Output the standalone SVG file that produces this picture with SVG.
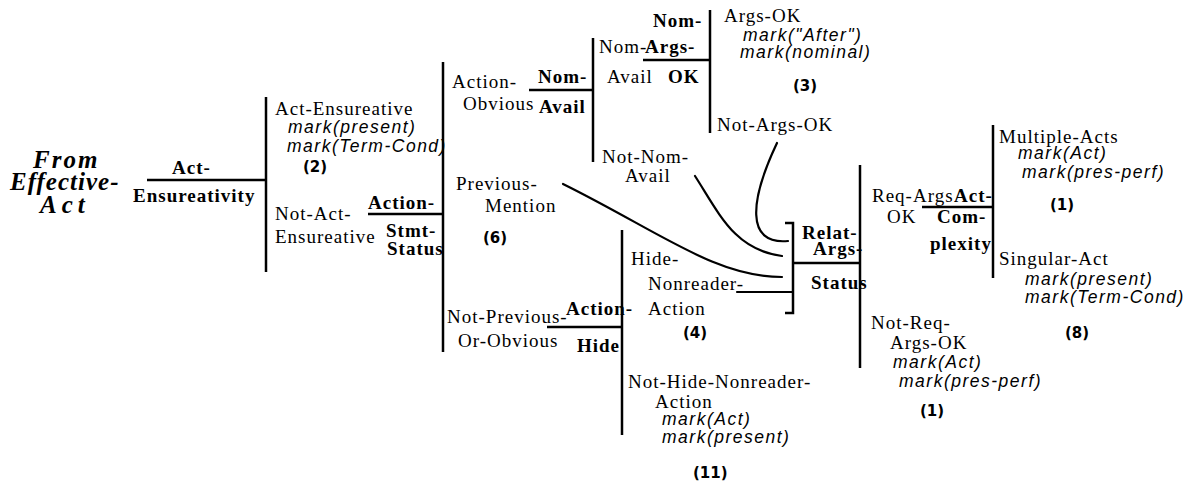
<svg xmlns="http://www.w3.org/2000/svg" width="1186" height="487" viewBox="0 0 1186 487">
<style>
text { font-family: "Liberation Serif", "Times New Roman", serif; font-size: 19px; letter-spacing: 1px; fill: #000; }
.b { font-weight: bold; }
.root { font-weight: bold; font-style: italic; font-size: 25px; letter-spacing: 1px; }
.mk { font-family: "Liberation Sans", Arial, sans-serif; font-style: italic; font-size: 17.5px; letter-spacing: 1.5px; }
.cnt { font-family: "DejaVu Sans", sans-serif; font-weight: bold; font-size: 15px; letter-spacing: 0px; }
.bar { stroke: #000; stroke-width: 2.5; fill: none; }
.link { stroke: #000; stroke-width: 2.2; fill: none; stroke-linecap: round; }
</style>
<rect width="1186" height="487" fill="#fff"/>

<!-- entry condition -->
<g id="root">
  <text class="root" x="33" y="168" style="letter-spacing:2px">From</text>
  <text class="root" x="10" y="190">Effective-</text>
  <text class="root" x="40" y="213" style="letter-spacing:5px">Act</text>
</g>

<!-- system: Act-Ensureativity -->
<g id="act-ensureativity">
  <line class="bar" x1="147" y1="180" x2="267" y2="180"/>
  <line class="bar" x1="266" y1="97" x2="266" y2="272"/>
  <text class="b" x="172" y="174">Act-</text>
  <text class="b" x="133" y="202">Ensureativity</text>
  <text x="275" y="115">Act-Ensureative</text>
  <text class="mk" x="288" y="133">mark(present)</text>
  <text class="mk" x="287" y="152">mark(Term-Cond)</text>
  <text class="cnt" x="303" y="172">(2)</text>
  <text x="275" y="220">Not-Act-</text>
  <text x="275" y="243">Ensureative</text>
</g>

<!-- system: Action-Stmt-Status -->
<g id="action-stmt-status">
  <line class="bar" x1="368" y1="214" x2="444" y2="214"/>
  <line class="bar" x1="443" y1="62" x2="443" y2="352"/>
  <text class="b" x="368" y="209">Action-</text>
  <text class="b" x="386" y="237">Stmt-</text>
  <text class="b" x="387" y="255">Status</text>
  <text x="452" y="88">Action-</text>
  <text x="463" y="110">Obvious</text>
  <text x="456" y="190">Previous-</text>
  <text x="485" y="212">Mention</text>
  <text class="cnt" x="483" y="243">(6)</text>
  <text x="447" y="323">Not-Previous-</text>
  <text x="458" y="347">Or-Obvious</text>
</g>

<!-- system: Nom-Avail -->
<g id="nom-avail">
  <line class="bar" x1="529" y1="90" x2="594" y2="90"/>
  <line class="bar" x1="593" y1="38" x2="593" y2="162"/>
  <text class="b" x="538" y="83">Nom-</text>
  <text class="b" x="539" y="113">Avail</text>
  <text x="599" y="53">Nom-</text>
  <text x="607" y="83">Avail</text>
  <text x="602" y="163">Not-Nom-</text>
  <text x="625" y="182">Avail</text>
</g>

<!-- system: Nom-Args-OK -->
<g id="nom-args-ok">
  <line class="bar" x1="643" y1="60" x2="711" y2="60"/>
  <line class="bar" x1="710" y1="10" x2="710" y2="133"/>
  <text class="b" x="653" y="27">Nom-</text>
  <text class="b" x="645" y="53">Args-</text>
  <text class="b" x="668" y="83">OK</text>
  <text x="724" y="22">Args-OK</text>
  <text class="mk" x="743" y="41">mark("After")</text>
  <text class="mk" x="740" y="58">mark(nominal)</text>
  <text class="cnt" x="793" y="91">(3)</text>
  <text x="717" y="131">Not-Args-OK</text>
</g>

<!-- system: Action-Hide -->
<g id="action-hide">
  <line class="bar" x1="547" y1="327" x2="623" y2="327"/>
  <line class="bar" x1="622" y1="230" x2="622" y2="435"/>
  <text class="b" x="566" y="315">Action-</text>
  <text class="b" x="577" y="352">Hide</text>
  <text x="631" y="265">Hide-</text>
  <text x="648" y="290">Nonreader-</text>
  <text x="648" y="315">Action</text>
  <text class="cnt" x="683" y="338">(4)</text>
  <text x="628" y="388">Not-Hide-Nonreader-</text>
  <text x="655" y="408">Action</text>
  <text class="mk" x="662" y="425">mark(Act)</text>
  <text class="mk" x="662" y="443">mark(present)</text>
  <text class="cnt" x="693" y="478">(11)</text>
</g>

<!-- system: Relat-Args-Status (conjunctive entry) -->
<g id="relat-args-status">
  <path class="bar" d="M785,223 H793 V313 H785"/>
  <line class="bar" x1="793" y1="263" x2="861" y2="263"/>
  <line class="bar" x1="860" y1="165" x2="860" y2="368"/>
  <text class="b" x="802" y="239">Relat-</text>
  <text class="b" x="813" y="255">Args-</text>
  <text class="b" x="811" y="289">Status</text>
  <text x="872" y="202">Req-Args</text>
  <text x="887" y="223">OK</text>
  <text x="871" y="329">Not-Req-</text>
  <text x="890" y="349">Args-OK</text>
  <text class="mk" x="893" y="368">mark(Act)</text>
  <text class="mk" x="899" y="387">mark(pres-perf)</text>
  <text class="cnt" x="920" y="416">(1)</text>
</g>

<!-- system: Act-Complexity -->
<g id="act-complexity">
  <line class="bar" x1="922" y1="207" x2="994" y2="207"/>
  <line class="bar" x1="993" y1="125" x2="993" y2="278"/>
  <text class="b" x="954" y="202">Act-</text>
  <text class="b" x="937" y="223">Com-</text>
  <text class="b" x="930" y="250">plexity</text>
  <text x="999" y="143">Multiple-Acts</text>
  <text class="mk" x="1018" y="159">mark(Act)</text>
  <text class="mk" x="1022" y="178">mark(pres-perf)</text>
  <text class="cnt" x="1050" y="210">(1)</text>
  <text x="999" y="265">Singular-Act</text>
  <text class="mk" x="1025" y="285">mark(present)</text>
  <text class="mk" x="1025" y="303">mark(Term-Cond)</text>
  <text class="cnt" x="1065" y="338">(8)</text>
</g>

<!-- connectors into the conjunction bracket -->
<g id="connectors">
  <path class="link" d="M777,143 C750,200 745,245 788,241"/>
  <path class="link" d="M695,176 C720,215 735,250 782,256"/>
  <path class="link" d="M563,184 C660,232 715,277 782,277"/>
  <line class="link" x1="737" y1="292" x2="793" y2="292"/>
</g>
</svg>
